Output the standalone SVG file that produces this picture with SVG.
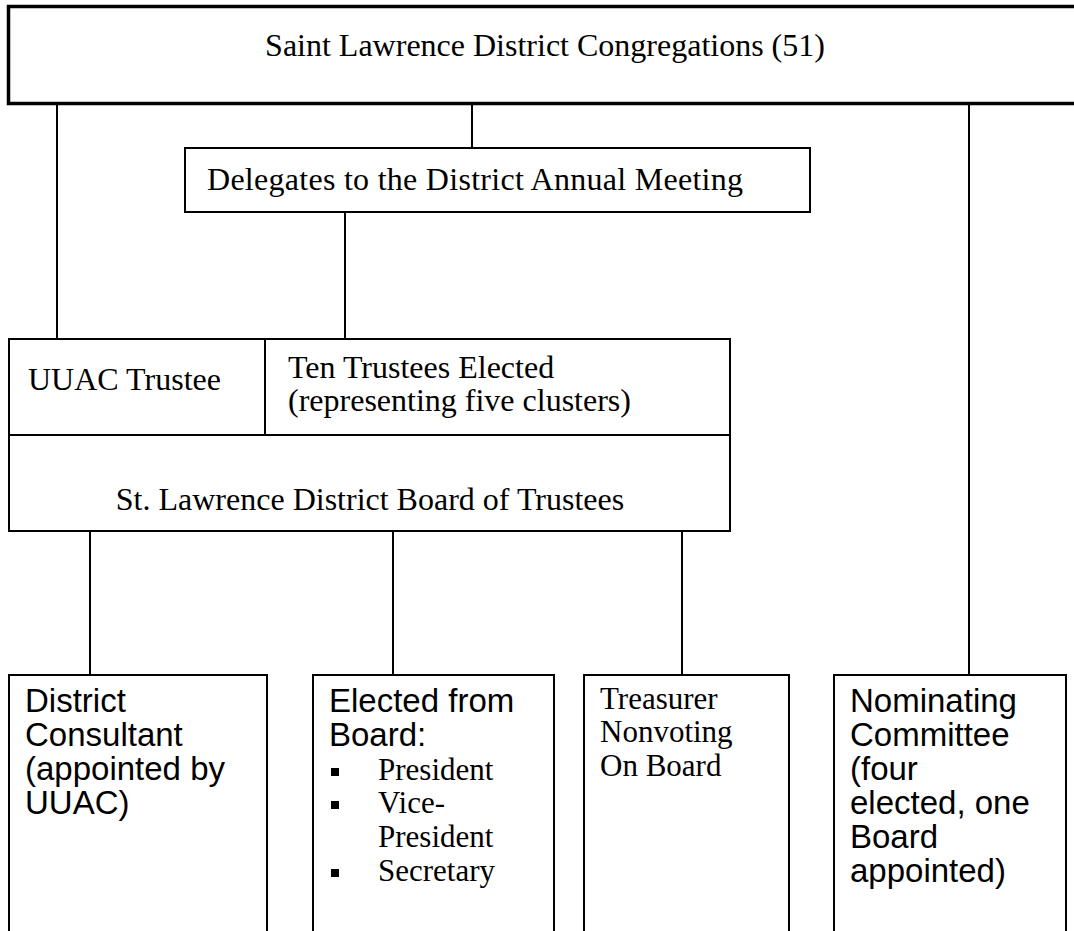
<svg xmlns="http://www.w3.org/2000/svg" width="1074" height="931" viewBox="0 0 1074 931">
<style>
.box{fill:#fff;stroke:#000;stroke-width:2}
.thick{fill:#fff;stroke:#000;stroke-width:3.5}
.ln{stroke:#000;stroke-width:2;fill:none}
.tr{font-family:"Liberation Serif","Times New Roman",serif;font-size:32px;fill:#000}
.tb{font-family:"Liberation Serif","Times New Roman",serif;font-size:31px;fill:#000}
.ar{font-family:"Liberation Sans",Arial,sans-serif;font-size:33px;fill:#000}
</style>
<rect width="1074" height="931" fill="#fff"/>
<g id="connectors">
<line class="ln" x1="57" y1="104" x2="57" y2="339"/>
<line class="ln" x1="472" y1="104" x2="472" y2="147"/>
<line class="ln" x1="969" y1="104" x2="969" y2="675"/>
<line class="ln" x1="345" y1="212" x2="345" y2="339"/>
<line class="ln" x1="90" y1="531" x2="90" y2="675"/>
<line class="ln" x1="393" y1="531" x2="393" y2="675"/>
<line class="ln" x1="682" y1="531" x2="682" y2="675"/>
</g>
<g id="congregations">
<rect class="thick" x="8.5" y="6.5" width="1080" height="97"/>
<text class="tr" x="545" y="56" text-anchor="middle">Saint Lawrence District Congregations (51)</text>
</g>
<g id="delegates">
<rect class="box" x="185" y="148" width="625" height="64"/>
<text class="tr" x="207" y="190" textLength="536" lengthAdjust="spacing">Delegates to the District Annual Meeting</text>
</g>
<g id="board">
<rect class="box" x="9" y="339" width="721" height="192"/>
<line class="ln" x1="9" y1="435" x2="730" y2="435"/>
<line class="ln" x1="265" y1="339" x2="265" y2="435"/>
<text class="tr" x="28" y="390">UUAC Trustee</text>
<text class="tr" x="288" y="378">Ten Trustees Elected</text>
<text class="tr" x="288" y="411">(representing five clusters)</text>
<text class="tr" x="370" y="510" text-anchor="middle">St. Lawrence District Board of Trustees</text>
</g>
<g id="consultant">
<rect class="box" x="9" y="675" width="258" height="280"/>
<text class="ar" x="25" y="712">District</text>
<text class="ar" x="25" y="746">Consultant</text>
<text class="ar" x="25" y="780">(appointed by</text>
<text class="ar" x="25" y="814">UUAC)</text>
</g>
<g id="elected">
<rect class="box" x="313" y="675" width="241" height="280"/>
<text class="ar" x="329" y="712">Elected from</text>
<text class="ar" x="329" y="746">Board:</text>
<rect x="331" y="768" width="8" height="8"/>
<rect x="331" y="801" width="8" height="8"/>
<rect x="331" y="869" width="8" height="8"/>
<text class="tb" x="378" y="780">President</text>
<text class="tb" x="378" y="813">Vice-</text>
<text class="tb" x="378" y="847">President</text>
<text class="tb" x="378" y="881">Secretary</text>
</g>
<g id="treasurer">
<rect class="box" x="584" y="675" width="205" height="280"/>
<text class="tb" x="600" y="709">Treasurer</text>
<text class="tb" x="600" y="742">Nonvoting</text>
<text class="tb" x="600" y="776">On Board</text>
</g>
<g id="nominating">
<rect class="box" x="834" y="675" width="232" height="280"/>
<text class="ar" x="850" y="712">Nominating</text>
<text class="ar" x="850" y="746">Committee</text>
<text class="ar" x="850" y="780">(four</text>
<text class="ar" x="850" y="814">elected, one</text>
<text class="ar" x="850" y="848">Board</text>
<text class="ar" x="850" y="882">appointed)</text>
</g>
</svg>
